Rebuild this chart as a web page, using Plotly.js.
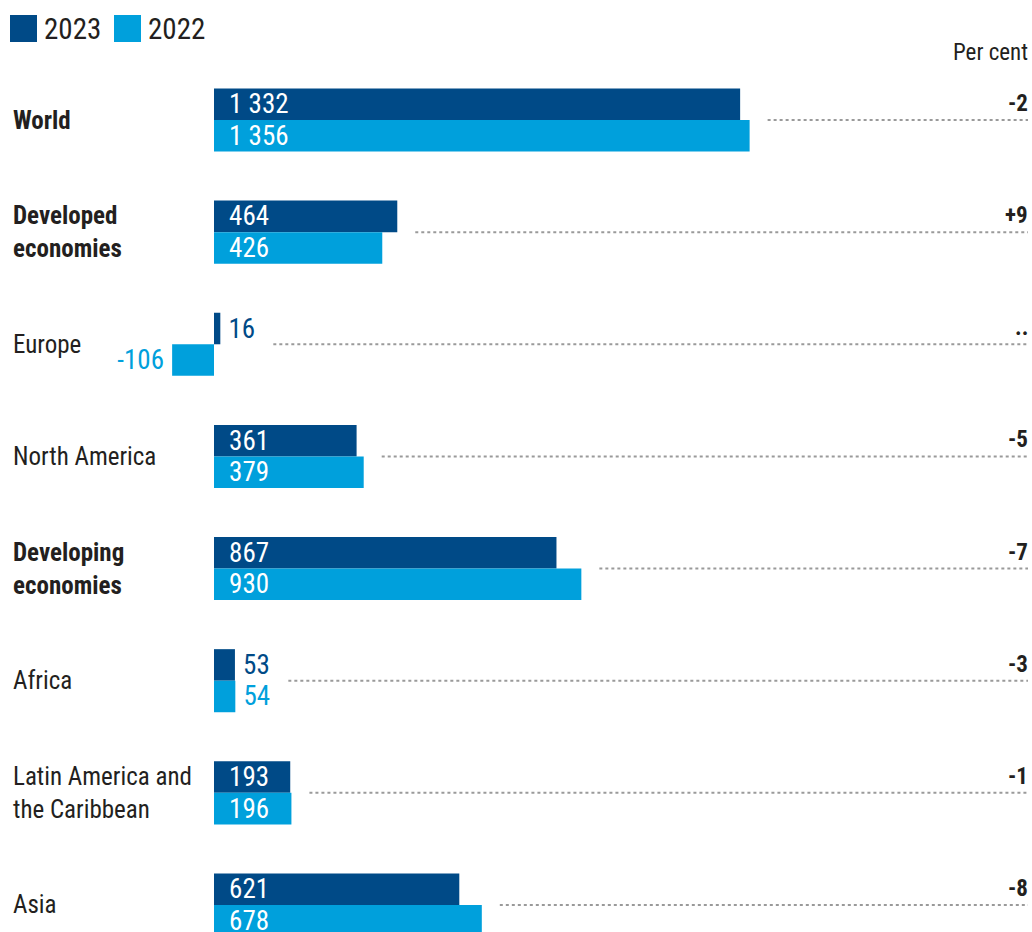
<!DOCTYPE html>
<html>
<head>
<meta charset="utf-8">
<script src="https://cdn.plot.ly/plotly-3.0.1.min.js"></script>
<style>html,body{margin:0;padding:0;overflow:hidden;background:#fff;}#chart{width:1032px;height:932px;}</style>
</head>
<body>
<div id="chart"></div>
<script>
// ---- data ----
const categories = ['World','Developed economies','Europe','North America','Developing economies','Africa','Latin America and the Caribbean','Asia'];
const categoryLabels = ['World','Developed<br>economies','Europe','North America','Developing<br>economies','Africa','Latin America and<br>the Caribbean','Asia'];
const boldCategory = [true,true,false,false,true,false,false,false];
const values2023 = [1332,464,16,361,867,53,193,621];
const values2022 = [1356,426,-106,379,930,54,196,678];
const growthPct = ['-2','+9','..','-5','-7','-3','-1','-8'];
const seriesNames = ['2023','2022'];

// ---- style ----
const W = 1032, H = 932;
const FONT = '"Liberation Sans Narrow", "Roboto Condensed", "Arial Narrow", "DejaVu Sans Condensed", sans-serif';
const C23 = '#004a87', C22 = '#00a0dc', TXT = '#231f20';
const S = 0.395;            // px per unit
const ZERO_PX = 214;        // pixel of zero
const xRange = [-ZERO_PX / S, (W - ZERO_PX) / S];
const ROW0 = 120, ROWSTEP = 112.14;
const yRange = [(H - ROW0) / ROWSTEP, -ROW0 / ROWSTEP];
const LBL = 27, DIGW = 13.5;

function fmt(v){
  const s = Math.abs(v).toString().replace(/\B(?=(\d{3})+(?!\d))/g, ' ');
  return (v < 0 ? '-' : '') + s;
}
function fits(v){ return Math.abs(v) * S > fmt(v).length * DIGW + 20; }
function texts(vals){
  return vals.map(v => fits(v) ? '\u2002' + fmt(v) : (v < 0 ? fmt(v) + '\u2009' : '\u2009' + fmt(v)));
}
function positions(vals){ return vals.map(v => fits(v) ? 'inside' : 'outside'); }

function trace(vals, name, color){
  return {
    type: 'bar', orientation: 'h', name: name,
    x: vals, y: categories,
    marker: {color: color},
    text: texts(vals), textposition: positions(vals),
    insidetextanchor: 'start', constraintext: 'none', cliponaxis: false,
    insidetextfont: {family: FONT, size: LBL, color: '#ffffff'},
    outsidetextfont: {family: FONT, size: LBL, color: color},
    hoverinfo: 'skip', showlegend: false
  };
}

const data = [trace(values2023, seriesNames[0], C23), trace(values2022, seriesNames[1], C22)];

const shapes = [], annotations = [];
const px = x => x / W, py = y => 1 - y / H;

// legend
[[seriesNames[0], C23, 10], [seriesNames[1], C22, 114]].forEach(([n, c, x]) => {
  shapes.push({type: 'rect', xref: 'paper', yref: 'paper', x0: px(x), x1: px(x + 27), y0: py(42), y1: py(15), fillcolor: c, line: {width: 0}});
  annotations.push({xref: 'paper', yref: 'paper', x: px(x + 32), y: py(29), xanchor: 'left', yanchor: 'middle', showarrow: false,
    text: n, font: {family: FONT, size: 29, color: TXT}});
});
annotations.push({xref: 'paper', yref: 'paper', x: px(1030), y: py(53), xanchor: 'right', yanchor: 'middle', showarrow: false,
  text: 'Per cent', font: {family: FONT, size: 23, color: TXT}});

categories.forEach((c, i) => {
  annotations.push({xref: 'paper', yref: 'y', x: px(11), y: i, xanchor: 'left', yanchor: 'middle', align: 'left', showarrow: false,
    text: boldCategory[i] ? '<b>' + categoryLabels[i].replace('<br>', '</b><br><b>') + '</b>' : categoryLabels[i],
    font: {family: FONT, size: 25, color: TXT}});
  // end of bars / outside labels
  let endPx = 0;
  [values2023[i], values2022[i]].forEach(v => {
    let e = Math.max(v, 0) * S;
    if (v > 0 && !fits(v)) e += 8 + fmt(v).length * DIGW;
    endPx = Math.max(endPx, e);
  });
  const x0 = (endPx + 18) / S;
  const x1 = xRange[1] - 4 / S;
  shapes.push({type: 'line', xref: 'x', yref: 'y', x0: x0, x1: x1, y0: i, y1: i, line: {color: '#9a9a9a', width: 2, dash: 'dot'}});
  annotations.push({xref: 'paper', yref: 'y', x: px(1030), y: i, xanchor: 'right', yanchor: 'bottom', yshift: 1, showarrow: false,
    text: '<b>' + growthPct[i] + '</b>', font: {family: FONT, size: 23, color: TXT}});
});

const layout = {
  width: W, height: H,
  margin: {l: 0, r: 0, t: 0, b: 0, pad: 0},
  paper_bgcolor: '#fff', plot_bgcolor: '#fff',
  barmode: 'group', bargap: 0.4375, bargroupgap: 0,
  xaxis: {range: xRange, visible: false, fixedrange: true},
  yaxis: {type: 'category', range: yRange, visible: false, fixedrange: true},
  shapes: shapes, annotations: annotations,
  font: {family: FONT, color: TXT},
  showlegend: false
};
Plotly.newPlot('chart', data, layout, {displayModeBar: false, staticPlot: true});
</script>
</body>
</html>
